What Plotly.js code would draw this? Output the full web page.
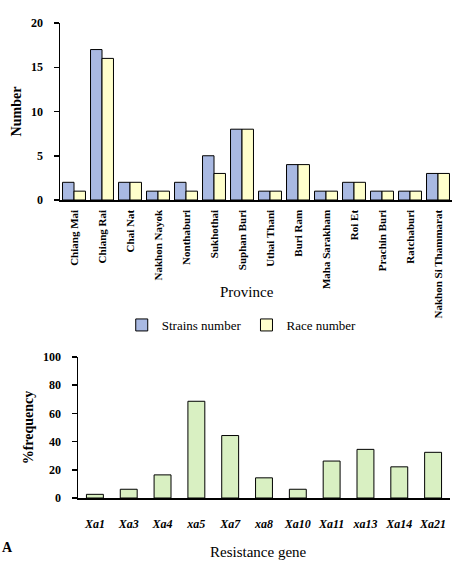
<!DOCTYPE html>
<html>
<head>
<meta charset="utf-8">
<script src="https://cdn.plot.ly/plotly-3.0.1.min.js"></script>
<style>html,body{margin:0;padding:0;background:#fff;}#chart{width:474px;height:574px;}</style>
</head>
<body>
<div id="chart"></div>
<script>
const provinces = ['Chiang Mai','Chiang Rai','Chai Nat','Nakhon Nayok','Nonthaburi','Sukhothai','Suphan Buri','Uthai Thani','Buri Ram','Maha Sarakham','Roi Et','Prachin Buri','Ratchaburi','Nakhon Si Thammarat'];
const strainsNumber = [2,17,2,1,2,5,8,1,4,1,2,1,1,3];
const raceNumber = [1,16,2,1,1,3,8,1,4,1,2,1,1,3];
const genes = ['Xa1','Xa3','Xa4','xa5','Xa7','xa8','Xa10','Xa11','xa13','Xa14','Xa21'];
const frequency = [2.6,6.2,16.4,68.6,44.3,14.3,6.2,26.2,34.5,22.1,32.4];
const topTicks = [0,5,10,15,20];
const bottomTicks = [0,20,40,60,80,100];

const W = 474, H = 574;
const px = v => v / W;
const py = v => 1 - v / H;
const serif = 'Liberation Serif';
const line = {color: '#000', width: 1};

const data = [
  {type: 'bar', name: 'Strains number', x: provinces, y: strainsNumber, xaxis: 'x', yaxis: 'y',
   marker: {color: '#a9b9e2', line: line}},
  {type: 'bar', name: 'Race number', x: provinces, y: raceNumber, xaxis: 'x', yaxis: 'y',
   marker: {color: '#ffffcc', line: line}},
  {type: 'bar', name: '%frequency', x: genes, y: frequency, xaxis: 'x2', yaxis: 'y2',
   marker: {color: '#d9f0c2', line: line}, showlegend: false, width: 0.5}
];

const tf = {family: serif, size: 12, color: '#000', weight: 'bold'};

const layout = {
  width: W, height: H,
  margin: {l: 0, r: 0, t: 0, b: 0},
  font: {family: serif, color: '#000'},
  paper_bgcolor: '#fff', plot_bgcolor: '#fff',
  barmode: 'group', bargap: 0.18, bargroupgap: 0,
  showlegend: true,
  legend: {orientation: 'h', x: 0.51, xanchor: 'center', y: py(325), yanchor: 'middle',
           font: {family: serif, size: 13, color: '#000'}, itemwidth: 30, tracegroupgap: 0},
  xaxis: {domain: [px(60), px(452)], anchor: 'y', showline: true, linecolor: '#000', linewidth: 1.5,
          ticks: '', tickangle: -90, tickfont: {family: serif, size: 11, color: '#000', weight: 'bold'},
          ticklabelstandoff: 4, showgrid: false, zeroline: false, fixedrange: true},
  yaxis: {domain: [py(200), py(23)], anchor: 'x', range: [0, 20], tickvals: topTicks,
          showline: true, linecolor: '#000', linewidth: 1.5, ticks: 'outside', ticklen: 5, tickwidth: 1.5, tickcolor: '#000',
          tickfont: tf, ticklabelstandoff: 8, showgrid: false, zeroline: false,
          title: {text: 'Number', font: {family: serif, size: 14, color: '#000', weight: 'bold'}, standoff: 6}},
  yaxis3: {domain: [py(200), py(23)], anchor: 'x', overlaying: 'y', range: [0, 20], tickvals: topTicks,
          showline: false, ticks: 'inside', ticklen: 5, tickwidth: 1.5, tickcolor: '#000', showticklabels: false,
          showgrid: false, zeroline: false},
  xaxis2: {domain: [px(78), px(450)], anchor: 'y2', showline: true, linecolor: '#000', linewidth: 1.5,
           ticks: '', tickfont: {family: serif, size: 12, color: '#000', weight: 'bold', style: 'italic'},
           ticklabelstandoff: 14, showgrid: false, zeroline: false},
  yaxis2: {domain: [py(498), py(357)], anchor: 'x2', range: [0, 100], tickvals: bottomTicks,
           showline: true, linecolor: '#000', linewidth: 1.5, ticks: 'outside', ticklen: 5, tickwidth: 1.5, tickcolor: '#000',
           tickfont: tf, ticklabelstandoff: 8, showgrid: false, zeroline: false,
           title: {text: '%frequency', font: {family: serif, size: 14, color: '#000', weight: 'bold'}, standoff: 6}},
  yaxis4: {domain: [py(498), py(357)], anchor: 'x2', overlaying: 'y2', range: [0, 100], tickvals: bottomTicks,
           showline: false, ticks: 'inside', ticklen: 5, tickwidth: 1.5, tickcolor: '#000', showticklabels: false,
           showgrid: false, zeroline: false},
  annotations: [
    {text: 'Province', xref: 'paper', yref: 'paper', x: px(247), y: py(292), xanchor: 'center', yanchor: 'middle',
     showarrow: false, font: {family: serif, size: 15, color: '#000'}},
    {text: 'Resistance gene', xref: 'paper', yref: 'paper', x: px(258), y: py(552), xanchor: 'center', yanchor: 'middle',
     showarrow: false, font: {family: serif, size: 15, color: '#000'}},
    {text: '<b>A</b>', xref: 'paper', yref: 'paper', x: 0, y: py(547), xanchor: 'left', yanchor: 'middle',
     showarrow: false, font: {family: serif, size: 14, color: '#000'}}
  ]
};

Plotly.newPlot('chart', data, layout, {displayModeBar: false, staticPlot: true});
</script>
</body>
</html>
